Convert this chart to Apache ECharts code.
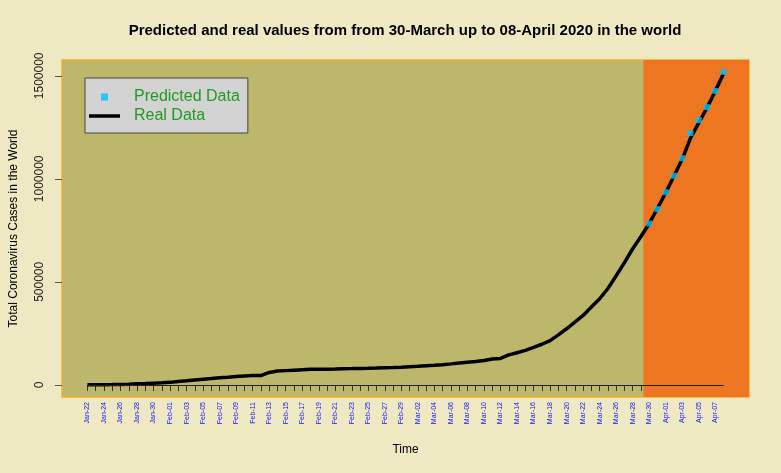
<!DOCTYPE html>
<html>
<head>
<meta charset="utf-8">
<script src="https://cdn.jsdelivr.net/npm/echarts@6/dist/echarts.min.js"></script>
<style>
html,body{margin:0;padding:0;background:#EEE8C3;}
#chart{width:781px;height:473px;}
</style>
</head>
<body>
<div id="chart"></div>
<script>
// Dates (daily, Jan-22 to Apr-08 2020)
var dates = ['Jan-22','Jan-23','Jan-24','Jan-25','Jan-26','Jan-27','Jan-28','Jan-29','Jan-30','Jan-31',
  'Feb-01','Feb-02','Feb-03','Feb-04','Feb-05','Feb-06','Feb-07','Feb-08','Feb-09','Feb-10',
  'Feb-11','Feb-12','Feb-13','Feb-14','Feb-15','Feb-16','Feb-17','Feb-18','Feb-19','Feb-20',
  'Feb-21','Feb-22','Feb-23','Feb-24','Feb-25','Feb-26','Feb-27','Feb-28','Feb-29',
  'Mar-01','Mar-02','Mar-03','Mar-04','Mar-05','Mar-06','Mar-07','Mar-08','Mar-09','Mar-10',
  'Mar-11','Mar-12','Mar-13','Mar-14','Mar-15','Mar-16','Mar-17','Mar-18','Mar-19','Mar-20',
  'Mar-21','Mar-22','Mar-23','Mar-24','Mar-25','Mar-26','Mar-27','Mar-28','Mar-29','Mar-30','Mar-31',
  'Apr-01','Apr-02','Apr-03','Apr-04','Apr-05','Apr-06','Apr-07','Apr-08'];

// Real cumulative cases (black line)
var realCases = [555,654,941,1434,2118,2927,5578,6166,8234,9927,
  12038,16787,19881,23892,27635,30794,34391,37120,40150,42762,
  44802,45221,60368,66885,69030,71224,73258,75136,75639,76197,
  76823,78579,78965,79568,80413,81395,82754,84120,86011,
  88369,90306,92840,95120,97886,101801,105847,109821,113590,118620,
  125875,128352,145205,156101,167454,181574,197102,214821,242570,272208,
  304507,336953,378235,418045,467653,529591,593291,660706,720117,782365,857487,
  932605,1013466,1095917,1197405,1272115,1345101,1426096,1511104];

// Predicted values (blue squares)
var predDates = ['Mar-30','Mar-31','Apr-01','Apr-02','Apr-03','Apr-04','Apr-05','Apr-06','Apr-07','Apr-08'];
var predCases = [783000,853000,935000,1015000,1100000,1222000,1285000,1348000,1427000,1519000];

// Y tick values
var yTicks = [0,500000,1000000,1500000];
// Start of highlighted (prediction) period, in day index units
var highlightStart = 67.3;

var xIdx = dates.map(function(d,i){return i;});
var xLabelIdx = xIdx.filter(function(i){return i % 2 === 0 && i < dates.length - 1;});
var realData = realCases.map(function(v,i){return [i, v];});
var predData = predCases.map(function(v,i){return [dates.indexOf(predDates[i]), v];});

var chart = echarts.init(document.getElementById('chart'), null, {renderer:'canvas'});
var font = 'Liberation Sans, Arial, sans-serif';
chart.setOption({
  backgroundColor: '#EEE8C3',
  animation: false,
  textStyle: {fontFamily: font},
  title: {
    text: 'Predicted and real values from from 30-March up to 08-April 2020 in the world',
    left: 405, top: 23, textAlign: 'center', padding: 0,
    textStyle: {fontSize: 15, fontWeight: 'bold', color: '#000', fontFamily: font}
  },
  grid: {
    left: 60, right: 32, top: 60, bottom: 76,
    show: true, backgroundColor: '#BDB76B', borderColor: '#F0AE30', borderWidth: 1.5
  },
  legend: {
    orient: 'vertical', left: 85, top: 78,
    backgroundColor: '#D3D3D3', borderColor: '#444', borderWidth: 1,
    padding: [11, 8, 9, 4],
    itemWidth: 31, itemHeight: 8, itemGap: 3,
    textStyle: {fontSize: 16, color: '#229A22', fontFamily: font, padding: [0,0,0,9]},
    data: [
      {name: 'Predicted Data', icon: 'path://M0,0M31,8M12,0.5h7v7h-7z'},
      {name: 'Real Data', icon: 'path://M0,0M31,8M0,2.25h31v3.5h-31z'}
    ]
  },
  xAxis: {
    type: 'value', min: -3.08, max: 80.08,
    position: 'bottom', offset: -12,
    name: 'Time', nameLocation: 'middle', nameGap: 59,
    nameTextStyle: {fontSize: 12, color: '#000', fontFamily: font},
    splitLine: {show: false},
    axisLine: {show: false, onZero: false},
    axisTick: {show: true, customValues: xIdx, length: 6, lineStyle: {color: '#333', width: 1}},
    axisLabel: {
      customValues: xLabelIdx, rotate: 90, margin: 17, fontSize: 7, color: '#1010FF', fontFamily: font,
      formatter: function(v){ return dates[Math.round(v)] || ''; }
    }
  },
  yAxis: {
    type: 'value', min: -59000, max: 1577000,
    name: 'Total Coronavirus Cases in the World', nameLocation: 'middle', nameGap: 42,
    nameTextStyle: {fontSize: 12, color: '#000', fontFamily: font},
    splitLine: {show: false},
    axisLine: {show: false, onZero: false},
    axisTick: {show: true, customValues: yTicks, length: 7, lineStyle: {color: '#555', width: 1}},
    axisLabel: {
      customValues: yTicks, rotate: 90, margin: 16, fontSize: 12, color: '#222', fontFamily: font,
      formatter: function(v){ return String(v); }
    }
  },
  series: [
    {
      type: 'line', name: 'region', data: [], silent: true, z: 1,
      markArea: {
        silent: true,
        itemStyle: {color: '#EE7621', opacity: 1},
        data: [[{xAxis: highlightStart}, {xAxis: 'max'}]]
      },
      markLine: {
        silent: true, symbol: 'none', label: {show: false},
        lineStyle: {color: '#222', width: 1, type: 'solid'},
        data: [[{coord: [0, 0]}, {coord: [dates.length - 1, 0]}]]
      }
    },
    {
      type: 'line', name: 'Real Data', data: realData, z: 3,
      symbol: 'none', lineStyle: {color: '#000', width: 3.5}, itemStyle: {color: '#000'}
    },
    {
      type: 'scatter', name: 'Predicted Data', data: predData, z: 4,
      symbol: 'rect', symbolSize: 6, itemStyle: {color: '#00BFFF'}
    }
  ]
});
</script>
</body>
</html>
